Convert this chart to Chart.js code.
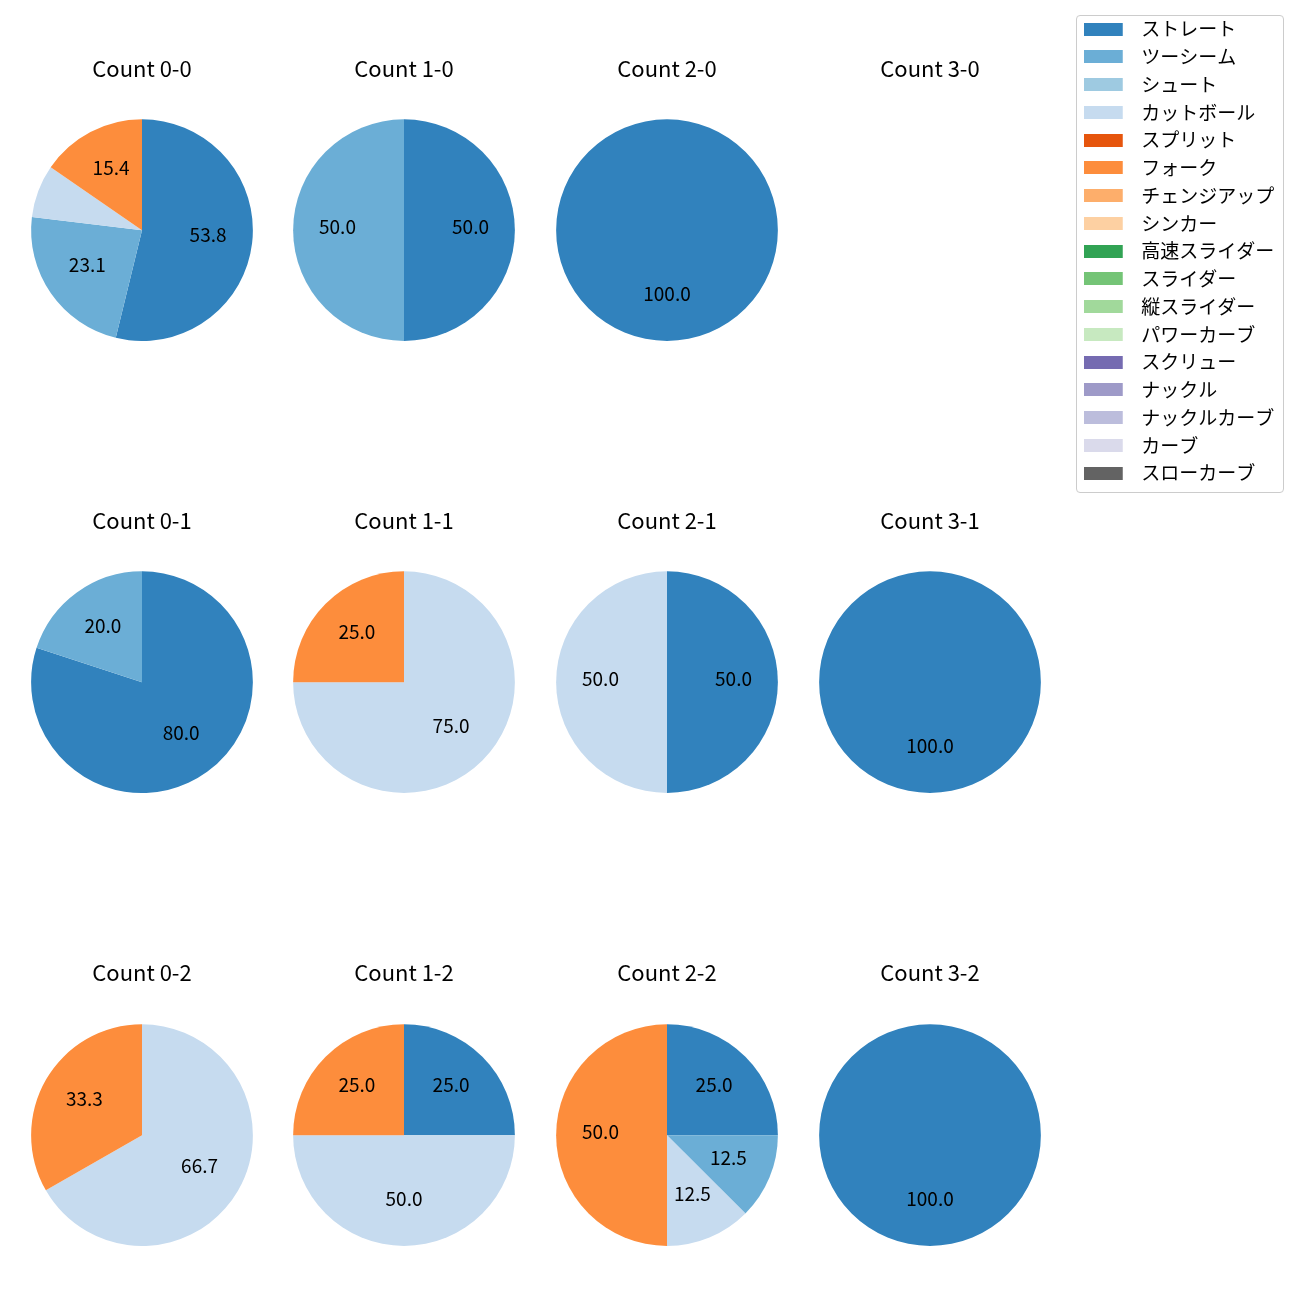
<!DOCTYPE html>
<html><head><meta charset="utf-8">
<script src="https://cdn.jsdelivr.net/npm/chart.js@4.4.1/dist/chart.umd.min.js"></script>
<style>
body{margin:0;background:#fff;width:1300px;height:1300px;position:relative;overflow:hidden;}
canvas{position:absolute;}
#legendFrame{position:absolute;left:1076px;top:15px;width:206px;height:476px;border:1px solid #cccccc;border-radius:4px;background:#fff;}
</style></head><body>
<div id="legendFrame"></div>
<script>
const FONT = '"Noto Sans CJK JP", "Noto Sans", sans-serif';

const pitchTypes = ['ストレート','ツーシーム','シュート','カットボール','スプリット','フォーク','チェンジアップ','シンカー','高速スライダー','スライダー','縦スライダー','パワーカーブ','スクリュー','ナックル','ナックルカーブ','カーブ','スローカーブ'];
const pitchColors = ['#3182bd','#6baed6','#9ecae1','#c6dbef','#e6550d','#fd8d3c','#fdae6b','#fdd0a2','#31a354','#74c476','#a1d99b','#c7e9c0','#756bb1','#9e9ac8','#bcbddc','#dadaeb','#636363'];

// percentages per pitch type (same order as pitchTypes)
const count00 = [53.8,23.1,0,7.7,0,15.4,0,0,0,0,0,0,0,0,0,0,0];
const count10 = [50.0,50.0,0,0,0,0,0,0,0,0,0,0,0,0,0,0,0];
const count20 = [100.0,0,0,0,0,0,0,0,0,0,0,0,0,0,0,0,0];
const count30 = [0,0,0,0,0,0,0,0,0,0,0,0,0,0,0,0,0];
const count01 = [80.0,20.0,0,0,0,0,0,0,0,0,0,0,0,0,0,0,0];
const count11 = [0,0,0,75.0,0,25.0,0,0,0,0,0,0,0,0,0,0,0];
const count21 = [50.0,0,0,50.0,0,0,0,0,0,0,0,0,0,0,0,0,0];
const count31 = [100.0,0,0,0,0,0,0,0,0,0,0,0,0,0,0,0,0];
const count02 = [0,0,0,66.7,0,33.3,0,0,0,0,0,0,0,0,0,0,0];
const count12 = [25.0,0,0,50.0,0,25.0,0,0,0,0,0,0,0,0,0,0,0];
const count22 = [25.0,12.5,0,12.5,0,50.0,0,0,0,0,0,0,0,0,0,0,0];
const count32 = [100.0,0,0,0,0,0,0,0,0,0,0,0,0,0,0,0,0];

const panelTitles = ['Count 0-0','Count 1-0','Count 2-0','Count 3-0','Count 0-1','Count 1-1','Count 2-1','Count 3-1','Count 0-2','Count 1-2','Count 2-2','Count 3-2'];
const panelData = [count00,count10,count20,count30,count01,count11,count21,count31,count02,count12,count22,count32];

// layout (pixels)
const colCenters = [141.5, 404.3, 667.1, 929.9];
const rowPieCenters = [230, 682, 1135];
const rowTitleCenters = [68, 520, 972];
const R = 110.75, TITLE_SIZE = 22, LABEL_SIZE = 19, LEGEND_SIZE = 19;

const pctLabels = {
  id: 'pctLabels',
  afterDatasetsDraw(chart) {
    const ds = chart.data.datasets[0];
    const total = ds.data.reduce((a, b) => a + b, 0);
    if (!total) return;
    const meta = chart.getDatasetMeta(0);
    const ctx = chart.ctx;
    ctx.save();
    ctx.font = LABEL_SIZE + 'px ' + FONT;
    ctx.fillStyle = '#000';
    ctx.textAlign = 'center';
    ctx.textBaseline = 'middle';
    meta.data.forEach((arc, i) => {
      const p = ds.data[i] / total * 100;
      if (p < 10) return;
      const a = arc.getProps(['x','y','startAngle','endAngle','outerRadius'], true);
      const mid = (a.startAngle + a.endAngle) / 2;
      ctx.fillText(p.toFixed(1), a.x + Math.cos(mid) * a.outerRadius * 0.6, a.y + Math.sin(mid) * a.outerRadius * 0.6 - 3);
    });
    ctx.restore();
  }
};

panelData.forEach((vals, k) => {
  const row = Math.floor(k / 4), col = k % 4;
  const cv = document.createElement('canvas');
  const W = 240;
  const top = Math.round(rowTitleCenters[row] - TITLE_SIZE * 0.6);
  const areaTop = rowPieCenters[row] - R;
  const padBottom = areaTop - top - TITLE_SIZE * 1.2;
  const H = Math.round(areaTop - top + 2 * R);
  cv.width = W; cv.height = H;
  cv.style.left = (colCenters[col] - W / 2) + 'px';
  cv.style.top = top + 'px';
  document.body.appendChild(cv);
  new Chart(cv, {
    type: 'pie',
    data: { labels: pitchTypes, datasets: [{ data: vals, backgroundColor: pitchColors, borderWidth: 0 }] },
    options: {
      responsive: false, animation: false, events: [], rotation: 0,
      layout: { padding: 0 },
      plugins: {
        legend: { display: false },
        tooltip: { enabled: false },
        title: { display: true, text: panelTitles[k], color: '#000', font: { family: FONT, size: TITLE_SIZE, weight: 'normal' }, padding: { top: 0, bottom: padBottom } }
      }
    },
    plugins: [pctLabels]
  });
});

// legend
function swatch(color) {
  const c = document.createElement('canvas');
  c.width = 48; c.height = 13;
  const x = c.getContext('2d');
  x.fillStyle = color; x.fillRect(0, 0, 39, 13);
  return c;
}
const legendCanvas = document.createElement('canvas');
legendCanvas.width = 210; legendCanvas.height = 520;
legendCanvas.style.left = '1075px';
legendCanvas.style.top = '11px';
document.body.appendChild(legendCanvas);
new Chart(legendCanvas, {
  type: 'pie',
  data: { labels: pitchTypes, datasets: [{ data: pitchTypes.map(() => 0), backgroundColor: pitchColors, borderWidth: 0 }] },
  options: {
    responsive: false, animation: false, events: [],
    plugins: {
      tooltip: { enabled: false },
      legend: {
        display: true, position: 'top', align: 'start', maxHeight: 2000,
        labels: {
          usePointStyle: true, pointStyleWidth: 48, boxHeight: 13, padding: 8.74,
          color: '#000', font: { family: FONT, size: LEGEND_SIZE },
          generateLabels(chart) {
            return chart.data.labels.map((t, i) => ({
              text: t, fillStyle: pitchColors[i], strokeStyle: pitchColors[i], lineWidth: 0,
              pointStyle: swatch(pitchColors[i]), hidden: false, index: i, fontColor: '#000'
            }));
          }
        }
      }
    }
  }
});
</script>
</body></html>
